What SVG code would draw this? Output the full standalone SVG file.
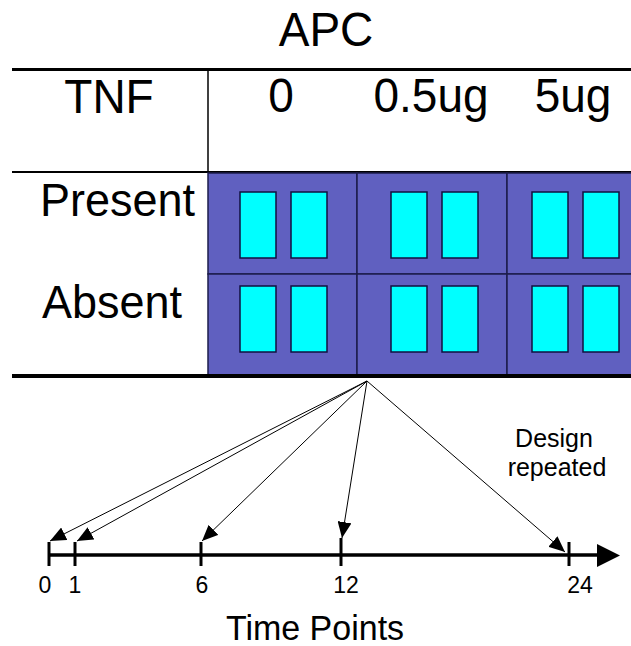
<svg xmlns="http://www.w3.org/2000/svg" width="631" height="646" viewBox="0 0 631 646">
<style>
.t{font-family:"Liberation Sans",Arial,sans-serif;fill:#000}
.big{font-size:46px}
.cell{fill:#6060c0;stroke:#1c1c4c;stroke-width:1.5}
.win{fill:#00ffff;stroke:#101040;stroke-width:1.5}
.conn{stroke:#000;stroke-width:1;fill:none;marker-end:url(#ah)}
</style>
<defs>
<marker id="ah" viewBox="0 0 16 14" refX="16" refY="7" markerWidth="16" markerHeight="14" orient="auto" markerUnits="userSpaceOnUse">
<path d="M0,0 L16,7 L0,14 z" fill="#000"/>
</marker>
<g id="pair">
<rect class="win" x="0" y="0" width="36" height="66"/>
<rect class="win" x="51" y="0" width="36" height="66"/>
</g>
</defs>
<rect width="631" height="646" fill="#fff"/>
<g id="title"><text class="t" transform="translate(326,46) scale(1,1.06)" font-size="46" text-anchor="middle">APC</text></g>
<g id="table-lines" stroke="#000">
<line x1="12" y1="69.5" x2="631" y2="69.5" stroke-width="3"/>
<line x1="208" y1="69" x2="208" y2="172" stroke-width="1.5"/>
<line x1="12" y1="172" x2="631" y2="172" stroke-width="2"/>
</g>
<g id="headers">
<text class="t big" transform="translate(109,113) scale(1,1.06)" text-anchor="middle">TNF</text>
<text class="t big" transform="translate(281,112) scale(1,1.06)" text-anchor="middle">0</text>
<text class="t big" transform="translate(431,112) scale(1,1.06)" text-anchor="middle">0.5ug</text>
<text class="t big" transform="translate(573,112) scale(1,1.06)" text-anchor="middle">5ug</text>
<text class="t" transform="translate(40,216) scale(1,1.04)" font-size="45">Present</text>
<text class="t" transform="translate(42,318) scale(1,1.04)" font-size="45">Absent</text>
</g>
<g id="grid">
<rect class="cell" x="208" y="173" width="149" height="101"/>
<rect class="cell" x="357" y="173" width="150" height="101"/>
<rect class="cell" x="507" y="173" width="125" height="101"/>
<rect class="cell" x="208" y="274" width="149" height="101"/>
<rect class="cell" x="357" y="274" width="150" height="101"/>
<rect class="cell" x="507" y="274" width="125" height="101"/>
</g>
<g id="windows">
<use href="#pair" x="240" y="192"/>
<use href="#pair" x="391" y="192"/>
<use href="#pair" x="532" y="192"/>
<use href="#pair" x="240" y="286"/>
<use href="#pair" x="391" y="286"/>
<use href="#pair" x="532" y="286"/>
</g>
<line x1="12" y1="376" x2="631" y2="376" stroke="#000" stroke-width="4"/>
<g id="connectors">
<line class="conn" x1="367" y1="381" x2="50" y2="541" stroke-width="1.4"/>
<line class="conn" x1="367" y1="381" x2="77" y2="541" stroke-width="1.4"/>
<line class="conn" x1="367" y1="381" x2="202" y2="541"/>
<line class="conn" x1="367" y1="381" x2="342" y2="538"/>
<line class="conn" x1="367" y1="381" x2="565" y2="552"/>
</g>
<g id="axis">
<line x1="48" y1="555" x2="600" y2="555" stroke="#000" stroke-width="3.5"/>
<path d="M597,544 L620,555.5 L597,567 z" fill="#000"/>
<g stroke="#000" stroke-width="3">
<line x1="49" y1="542" x2="49" y2="566"/>
<line x1="75" y1="542" x2="75" y2="566"/>
<line x1="201" y1="542" x2="201" y2="566"/>
<line x1="341" y1="538" x2="341" y2="566"/>
<line x1="569" y1="542" x2="569" y2="566"/>
</g>
<g font-size="23" text-anchor="middle">
<text class="t" x="45" y="593">0</text>
<text class="t" x="75" y="593">1</text>
<text class="t" x="202" y="593">6</text>
<text class="t" x="346" y="593">12</text>
<text class="t" x="580" y="593">24</text>
</g>
<text class="t" transform="translate(315,640) scale(1,1.05)" font-size="34" text-anchor="middle">Time Points</text>
</g>
<g id="note" font-size="25" text-anchor="middle">
<text class="t" x="554" y="447">Design</text>
<text class="t" x="557" y="476">repeated</text>
</g>
</svg>
